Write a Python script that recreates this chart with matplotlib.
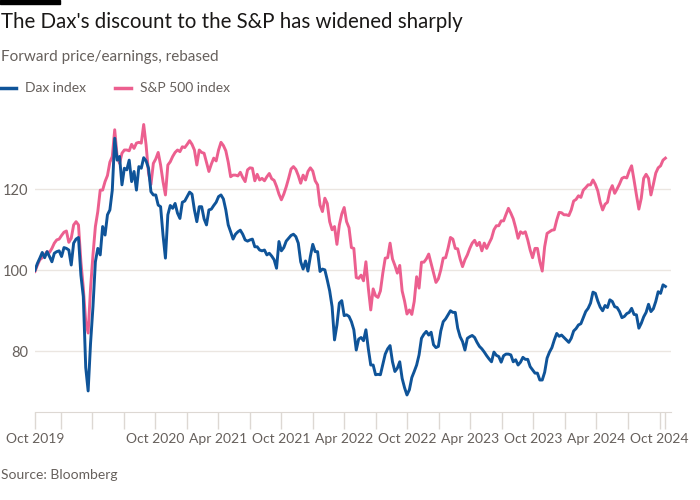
import numpy as np
import pandas as pd
import matplotlib
matplotlib.use("Agg")
import matplotlib.pyplot as plt
from matplotlib.lines import Line2D
from matplotlib.patches import Rectangle

plt.rcParams['font.family'] = ['Lato', 'DejaVu Sans']

# Forward P/E, rebased to 100, weekly from 18 Oct 2019
start_date = "2019-10-18"

dax = [
    100.0, 101.7, 103.0, 104.4, 103.1, 104.6, 103.4, 102.1, 104.2, 104.6,
    104.8, 103.4, 105.6, 105.4, 105.0, 101.3, 106.7, 107.7, 108.1, 98.8,
    93.5, 76.0, 70.2, 82.0, 91.0, 102.1, 105.4, 103.8, 110.8, 108.7,
    113.7, 114.9, 119.8, 132.6, 127.2, 128.1, 121.1, 125.2, 124.8, 127.2,
    121.9, 124.4, 119.8, 125.6, 125.2, 127.8, 127.0, 125.2, 119.4, 118.6,
    118.6, 116.1, 115.7, 108.7, 103.0, 113.7, 116.0, 115.3, 116.5, 114.1,
    112.8, 116.8, 117.1, 118.2, 119.3, 118.8, 114.9, 112.0, 115.7, 115.7,
    112.7, 111.2, 114.9, 115.1, 116.0, 116.8, 118.2, 118.6, 117.6, 114.9,
    111.2, 109.5, 107.7, 108.9, 109.5, 109.9, 108.9, 107.5, 107.2, 107.5,
    107.7, 105.8, 105.8, 105.0, 104.8, 105.0, 103.8, 104.2, 103.5, 102.6,
    100.5, 107.1, 104.8, 105.6, 107.2, 107.9, 108.6, 108.9, 108.3, 106.7,
    102.1, 100.3, 102.3, 99.8, 103.4, 106.4, 104.6, 104.6, 99.7, 100.3,
    100.1, 97.6, 94.9, 91.0, 82.8, 86.5, 91.9, 92.5, 88.8, 89.0,
    88.6, 87.3, 85.3, 80.3, 83.0, 83.4, 82.6, 85.3, 80.6, 76.6,
    76.6, 74.2, 74.3, 74.2, 76.8, 79.3, 80.6, 81.4, 77.4, 75.0,
    75.8, 77.4, 73.3, 71.0, 69.2, 70.5, 73.5, 75.0, 76.6, 79.1,
    83.2, 84.2, 84.9, 84.0, 84.7, 81.6, 80.9, 81.2, 85.0, 87.3,
    88.0, 89.0, 90.0, 89.6, 89.6, 85.7, 83.6, 82.4, 80.3, 83.2,
    83.6, 83.9, 83.4, 82.2, 81.2, 80.6, 79.8, 78.9, 78.1, 77.4,
    79.8, 79.0, 78.7, 77.3, 78.9, 79.3, 79.3, 79.1, 77.4, 77.9,
    76.6, 77.3, 78.5, 78.0, 78.0, 76.2, 75.4, 74.6, 74.6, 72.9,
    72.9, 74.8, 78.3, 79.8, 80.9, 82.8, 84.4, 83.7, 84.0, 83.4,
    82.8, 82.2, 83.2, 85.0, 85.6, 86.5, 86.8, 88.3, 89.8, 90.6,
    91.9, 94.6, 94.3, 92.4, 90.9, 90.0, 91.3, 90.8, 92.7, 92.3,
    91.0, 90.8, 89.8, 88.3, 88.6, 89.3, 89.6, 90.6, 89.1, 89.0,
    85.7, 86.9, 88.5, 89.6, 91.6, 89.8, 90.5, 92.3, 94.7, 94.3,
    96.4, 96.0,
]

sp500 = [
    99.7, 101.3, 102.6, 103.1, 103.8, 104.6, 104.4, 105.4, 106.7, 107.5,
    107.7, 108.6, 109.4, 109.7, 106.9, 107.9, 111.2, 112.0, 111.2, 102.1,
    95.6, 87.3, 84.5, 95.6, 103.8, 110.8, 114.5, 119.8, 119.8, 121.9,
    123.4, 126.7, 128.1, 134.7, 128.1, 126.4, 128.9, 129.7, 129.7, 129.5,
    131.1, 130.1, 131.4, 131.6, 131.4, 136.0, 130.9, 124.0, 121.2, 126.4,
    127.5, 129.1, 126.0, 121.9, 118.6, 126.0, 126.8, 128.1, 129.1, 129.7,
    129.3, 130.5, 130.3, 131.1, 132.0, 131.1, 129.7, 126.0, 129.7, 129.1,
    128.9, 126.7, 124.4, 126.2, 127.7, 127.0, 129.7, 131.6, 130.8, 129.5,
    126.7, 123.1, 123.5, 123.5, 123.3, 124.2, 122.9, 121.9, 124.8, 125.3,
    125.2, 122.1, 123.7, 122.3, 122.7, 122.1, 123.1, 123.9, 122.6, 122.2,
    120.7, 118.8, 117.4, 118.8, 120.6, 122.7, 125.0, 125.6, 124.9, 123.4,
    121.5, 123.5, 122.3, 124.4, 125.3, 124.5, 122.1, 121.1, 116.1, 114.5,
    117.8, 116.5, 112.0, 110.0, 110.8, 106.4, 111.2, 113.9, 115.5, 112.0,
    110.5, 105.6, 105.4, 98.2, 98.0, 98.8, 97.4, 102.1, 95.6, 90.2,
    95.4, 93.7, 93.3, 94.9, 99.3, 103.0, 103.1, 106.7, 102.8, 101.2,
    99.3, 101.2, 94.9, 92.4, 89.2, 90.2, 89.1, 92.3, 98.4, 95.6,
    102.0, 102.0, 102.8, 104.0, 101.7, 99.3, 97.0, 97.9, 100.1, 103.0,
    103.1, 105.4, 108.1, 107.7, 105.4, 105.3, 102.8, 100.9, 102.6, 103.8,
    105.4, 106.7, 107.4, 106.1, 106.9, 104.8, 106.7, 105.4, 106.7, 107.9,
    110.0, 111.0, 111.0, 112.2, 112.2, 113.8, 115.3, 114.1, 112.7, 110.5,
    107.9, 109.5, 109.1, 109.5, 107.5, 105.0, 103.1, 105.4, 105.4, 102.1,
    99.8, 105.8, 109.1, 109.5, 109.9, 110.0, 112.4, 114.3, 114.2, 113.7,
    113.7, 113.5, 114.9, 117.1, 117.5, 118.4, 118.0, 119.8, 120.4, 121.1,
    121.1, 122.3, 121.2, 119.6, 116.8, 114.9, 116.3, 116.8, 119.6, 120.9,
    119.0, 120.1, 121.3, 122.7, 123.0, 122.8, 124.5, 125.8, 122.3, 118.6,
    115.1, 117.8, 122.7, 123.7, 122.7, 118.6, 121.2, 124.0, 125.3, 125.8,
    127.2, 127.7,
]

dates = pd.date_range(start_date, periods=len(dax), freq="7D")

# x ticks: first point, each quarter, last point
quarter_ticks = pd.date_range("2020-01-01", "2024-10-01", freq="QS")
tick_dates = [dates[0]] + list(quarter_ticks) + [dates[-1]]
tick_labels = []
for d in tick_dates:
    if d == dates[0]:
        tick_labels.append("Oct 2019")
    elif d in quarter_ticks and d.month in (4, 10) and d >= pd.Timestamp("2020-10-01"):
        tick_labels.append(d.strftime("%b %Y"))
    else:
        tick_labels.append("")

blue = '#0f5499'
pink = '#ec5f8f'
grey = '#66605c'
grid_col = '#ebe6e1'

fig = plt.figure(figsize=(7, 5), dpi=100)
fig.patch.set_facecolor('white')
ax = fig.add_axes([0.05, 0.176, 0.908, 0.6074])

ax.plot(dates, sp500, color=pink, lw=2.1, zorder=2)
ax.plot(dates, dax, color=blue, lw=2.1, zorder=3)

ax.set_ylim(65, 140)
ax.set_xlim(dates[0], pd.Timestamp("2024-11-02"))
ax.set_yticks([80, 100, 120])
ax.yaxis.grid(True, color=grid_col, lw=1)
ax.set_axisbelow(True)
ax.set_xticks(tick_dates)
ax.set_xticklabels(tick_labels)

ax.tick_params(axis='y', length=0, pad=5, labelsize=10.5, labelcolor=grey)
ax.tick_params(axis='x', length=12, width=1, color='#ddd8d3', pad=3,
               labelsize=10, labelcolor=grey)
for side in ['top', 'right', 'left']:
    ax.spines[side].set_visible(False)
ax.spines['bottom'].set_color('#ddd8d3')

# header
fig.add_artist(Rectangle((0, 1 - 4 / 500), 60 / 700, 4 / 500,
                         transform=fig.transFigure, color='black'))
fig.text(0.002, 1 - 22 / 500, "The Dax's discount to the S&P has widened sharply",
         fontsize=14.8, color='#1a1817', va='center')
fig.text(0.002, 1 - 57 / 500, "Forward price/earnings, rebased",
         fontsize=11, color=grey, va='center')

# legend
ly = 1 - 88 / 500
fig.add_artist(Line2D([0, 16 / 700], [ly, ly], color=blue, lw=2.5,
                      transform=fig.transFigure))
fig.text(25 / 700, ly, "Dax index", fontsize=10, color=grey, va='center')
fig.add_artist(Line2D([115 / 700, 131 / 700], [ly, ly], color=pink, lw=2.5,
                      transform=fig.transFigure))
fig.text(140 / 700, ly, "S&P 500 index", fontsize=10, color=grey, va='center')

fig.text(0.002, 1 - 475 / 500, "Source: Bloomberg", fontsize=10, color=grey, va='center')

fig.savefig("out.png", dpi=100)
